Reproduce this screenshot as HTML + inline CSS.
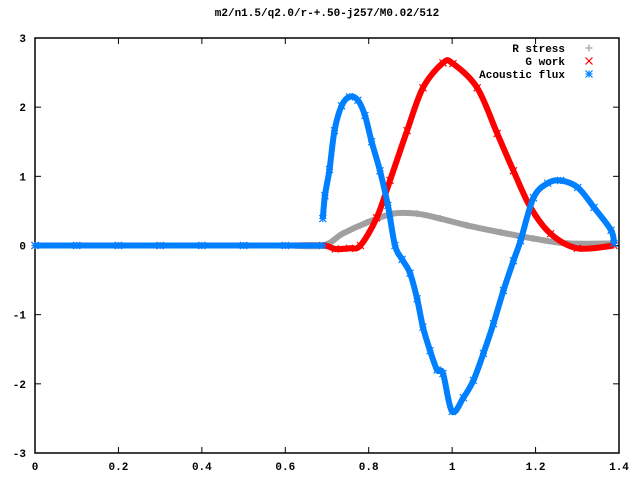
<!DOCTYPE html>
<html><head><meta charset="utf-8"><style>
body{margin:0;background:#fff}
svg{display:block;font-family:"Liberation Mono",monospace;font-weight:bold;font-size:11px}
</style></head><body>
<svg id="chart" width="640" height="480" viewBox="0 0 640 480" xmlns="http://www.w3.org/2000/svg">
<rect width="640" height="480" fill="#fff"/>
<text x="327" y="16" text-anchor="middle">m2/n1.5/q2.0/r-+.50-j257/M0.02/512</text>
<g id="axes"></g>
<g id="series"></g>
<g id="legend"></g>
</svg>
<script>
const xTicks=[0,0.2,0.4,0.6,0.8,1,1.2,1.4];
const xTickLabels=["0","0.2","0.4","0.6","0.8","1","1.2","1.4"];
const yTicks=[-3,-2,-1,0,1,2,3];
const yTickLabels=["-3","-2","-1","0","1","2","3"];
const seriesNames=["R stress","G work","Acoustic flux"];
const rStressX=[0,0.1,0.2,0.3,0.4,0.5,0.6,0.69,0.737,0.795,0.858,0.916,0.971,1.036,1.116,1.195,1.277,1.388];
const rStressY=[0,0,0,0,0,0,0,0,0.17,0.33,0.46,0.46,0.39,0.29,0.19,0.1,0.03,0.03];
const gWorkX=[0,0.1,0.2,0.3,0.4,0.5,0.6,0.69,0.72,0.754,0.78,0.819,0.851,0.892,0.93,0.978,1.002,1.06,1.108,1.147,1.188,1.236,1.3,1.388];
const gWorkY=[0,0,0,0,0,0,0,0,-0.05,-0.04,0,0.4,0.94,1.66,2.28,2.64,2.63,2.28,1.62,1.08,0.55,0.17,-0.04,0];
const fluxX=[0,0.1,0.2,0.3,0.4,0.5,0.6,0.69,null,0.69,0.695,0.706,0.718,0.735,0.754,0.774,0.791,0.807,0.827,0.846,0.863,0.88,0.899,0.916,0.93,0.947,0.964,0.978,1.0,1.027,1.051,1.075,1.099,1.123,1.147,1.164,1.195,1.229,1.26,1.301,1.34,1.381,1.388];
const fluxY=[0,0,0,0,0,0,0,0,null,0.39,0.72,1.1,1.66,2.02,2.15,2.1,1.88,1.5,1.08,0.58,0,-0.2,-0.4,-0.77,-1.18,-1.52,-1.8,-1.85,-2.4,-2.2,-1.95,-1.56,-1.13,-0.65,-0.22,0.07,0.69,0.9,0.94,0.84,0.55,0.22,0.03];
const X0=35,X1=619,Y0=453,Y1=38,xMin=0,xMax=1.4,yMin=-3,yMax=3;
const sx=v=>X0+(v-xMin)/(xMax-xMin)*(X1-X0);
const sy=v=>Y0-(v-yMin)/(yMax-yMin)*(Y0-Y1);
const NS="http://www.w3.org/2000/svg";
function mk(t,a,p){const e=document.createElementNS(NS,t);for(const k in a)e.setAttribute(k,a[k]);p.appendChild(e);return e;}
const axes=document.getElementById('axes');
const frame=mk('rect',{x:X0,y:Y1,width:X1-X0,height:Y0-Y1,fill:'none',stroke:'#000','stroke-width':1.5},axes);


xTicks.forEach((v,i)=>{
 const x=sx(v);
 const t1=mk('line',{x1:x,y1:Y0,x2:x,y2:Y0-6,stroke:'#000'},axes);
 
 
 const t2=mk('line',{x1:x,y1:Y1,x2:x,y2:Y1+6,stroke:'#000'},axes);
 
 
 const l=mk('text',{x:x,y:Y0+17,'text-anchor':'middle'},axes);l.textContent=xTickLabels[i];
 
 
});
yTicks.forEach((v,i)=>{
 const y=sy(v);
 const t1=mk('line',{x1:X0,y1:y,x2:X0+6,y2:y,stroke:'#000'},axes);
 
 
 const t2=mk('line',{x1:X1,y1:y,x2:X1-6,y2:y,stroke:'#000'},axes);
 
 
 const l=mk('text',{x:X0-9,y:y+4,'text-anchor':'end'},axes);l.textContent=yTickLabels[i];
 
 
});
function marker(type,x,y,c,p){
 const g=mk('g',{stroke:c,'stroke-width':1.2},p);
 const s=3.5;
 if(type!=='x'){mk('line',{x1:x-s,y1:y,x2:x+s,y2:y},g);mk('line',{x1:x,y1:y-s,x2:x,y2:y+s},g);}
 if(type!=='+'){mk('line',{x1:x-s,y1:y-s,x2:x+s,y2:y+s},g);mk('line',{x1:x-s,y1:y+s,x2:x+s,y2:y-s},g);}
 return g;
}
function smoothPath(pts){
 if(pts.length<2)return '';
 let d='M'+pts[0][0]+','+pts[0][1];
 for(let i=0;i<pts.length-1;i++){
  const p0=pts[i-1]||pts[i],p1=pts[i],p2=pts[i+1],p3=pts[i+2]||p2;
  const c1=[p1[0]+(p2[0]-p0[0])/6,p1[1]+(p2[1]-p0[1])/6];
  const c2=[p2[0]-(p3[0]-p1[0])/6,p2[1]-(p3[1]-p1[1])/6];
  d+=' C'+c1[0]+','+c1[1]+' '+c2[0]+','+c2[1]+' '+p2[0]+','+p2[1];
 }
 return d;
}
const ser=document.getElementById('series');
function drawSeries(xs,ys,c,type,w,name){
 const g=mk('g',{},ser);
 
 
 const segs=[[]];
 xs.forEach((x,i)=>{ if(x===null){segs.push([]);} else segs[segs.length-1].push([sx(x),sy(ys[i])]); });
 segs.forEach(s=>{
  const p=mk('path',{d:smoothPath(s),fill:'none',stroke:c,'stroke-width':w,'stroke-linejoin':'round'},g);
  
  
 });
 xs.forEach((x,i)=>{ if(x===null)return; const m=marker(type,sx(x),sy(ys[i]),c,g);
  
  });
}
drawSeries(rStressX,rStressY,'#a0a0a0','+',6,'r-stress-series');
drawSeries(gWorkX,gWorkY,'#ff0000','x',6,'g-work-series');
drawSeries(fluxX,fluxY,'#0080ff','*',6,'acoustic-flux-series');
const leg=document.getElementById('legend');
const cols=['#a0a0a0','#ff0000','#0080ff'],types=['+','x','*'];
seriesNames.forEach((n,i)=>{
 const y=52+i*13;
 const t=mk('text',{x:565,y:y,'text-anchor':'end'},leg);t.textContent=n;
 
 
 const m=marker(types[i],589,y-4,cols[i],leg);
 
 
});
</script>
</body></html>
